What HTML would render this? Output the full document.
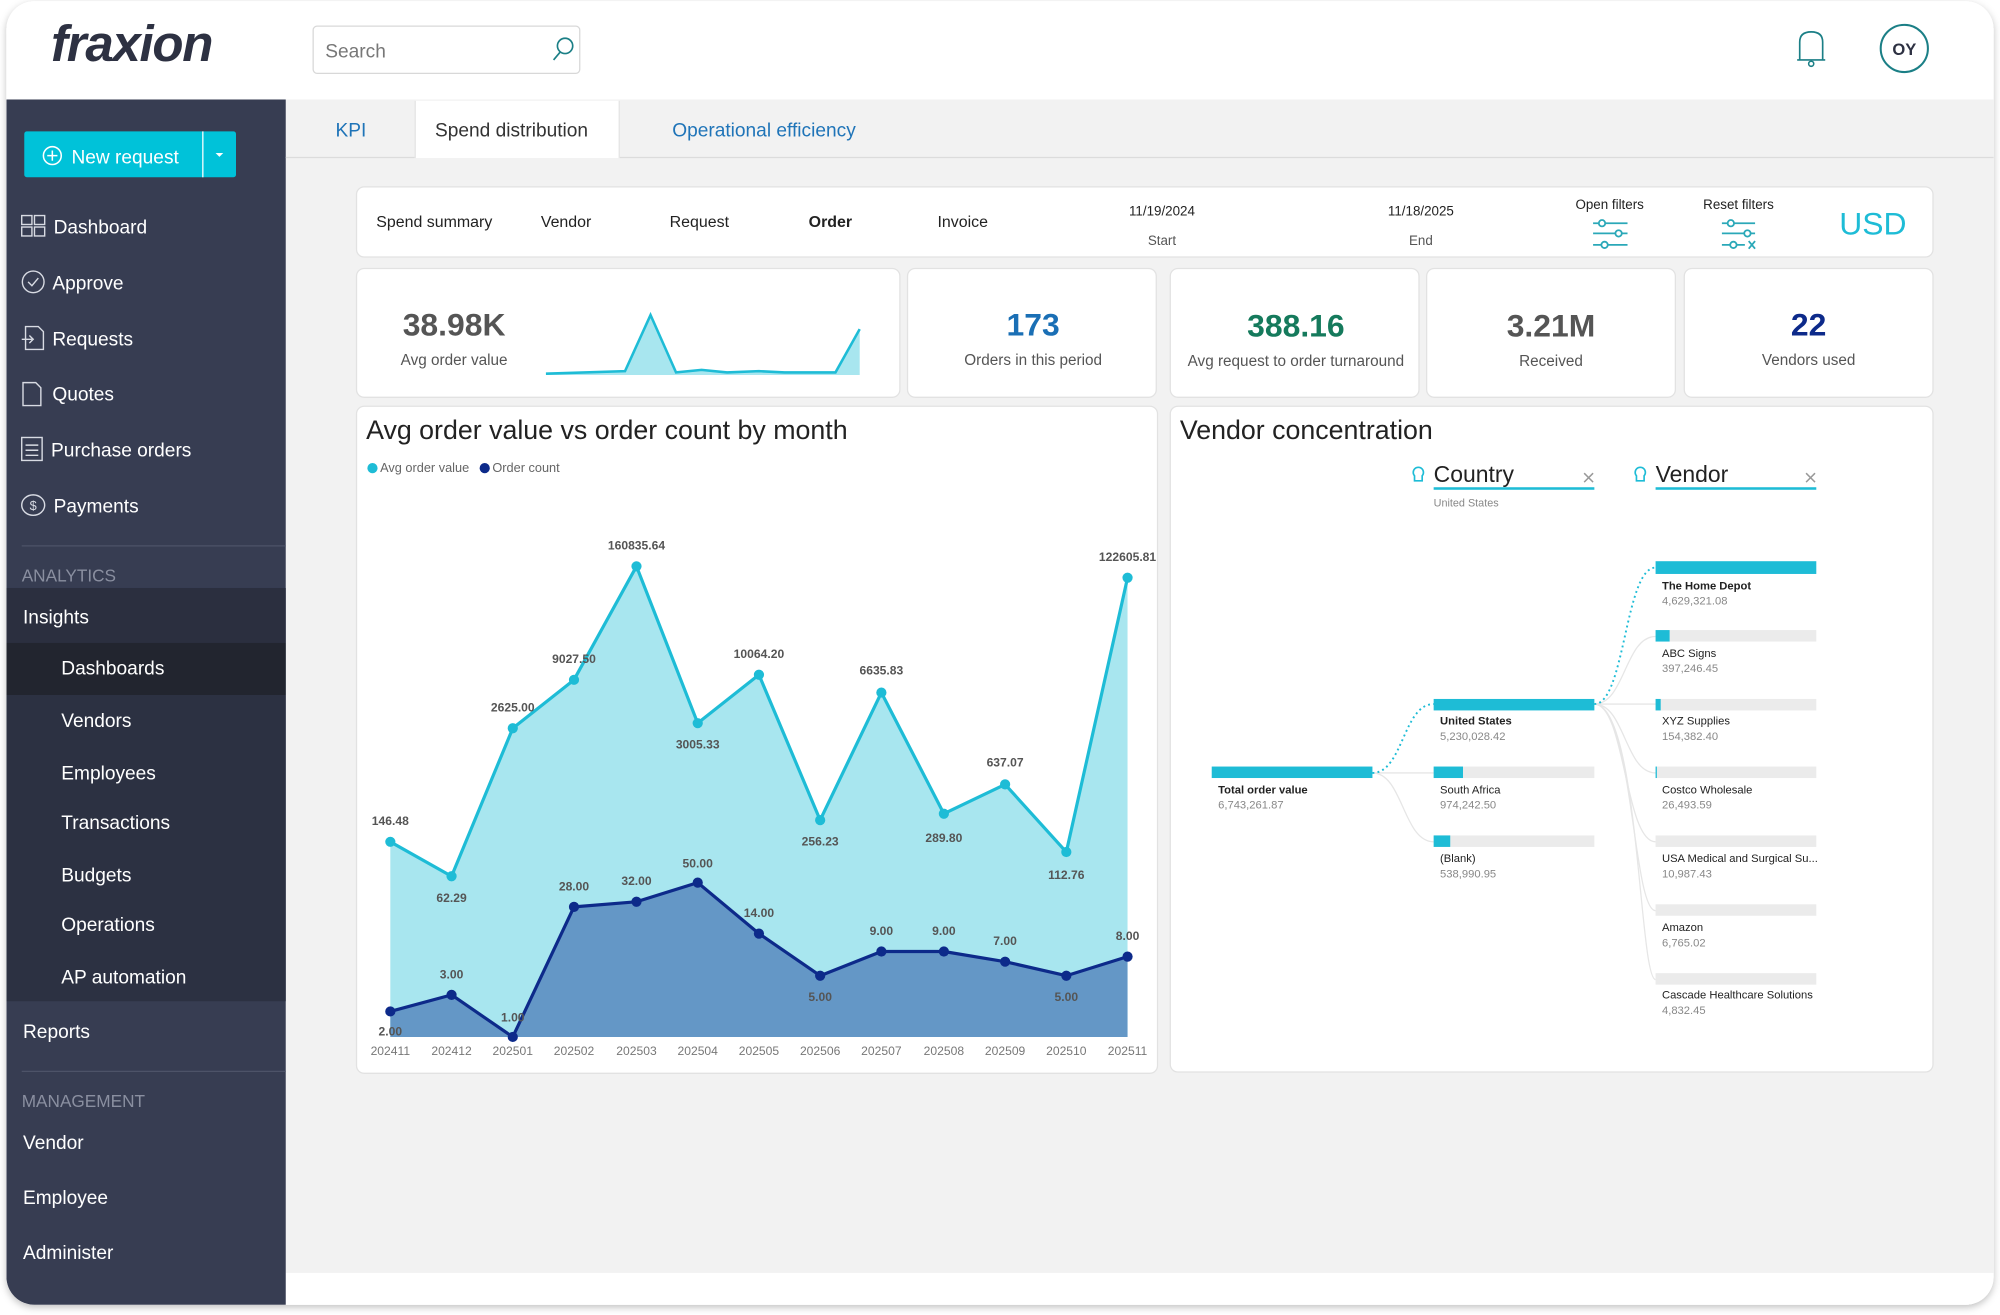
<!DOCTYPE html>
<html><head><meta charset="utf-8"><style>
html,body{margin:0;padding:0;background:#fff;}
svg{display:block;font-family:"Liberation Sans",sans-serif;}
</style></head><body>
<svg width="2000" height="1315" viewBox="0 0 1568 1031" xmlns="http://www.w3.org/2000/svg">
<defs>
<filter id="sh" x="-5%" y="-5%" width="110%" height="110%"><feDropShadow dx="0" dy="2" stdDeviation="3" flood-color="#000" flood-opacity="0.25"/></filter>
<clipPath id="fr"><rect x="5" y="1" width="1558" height="1022" rx="22"/></clipPath>
</defs>
<rect width="1568" height="1031" fill="#fff"/>
<rect x="5" y="1" width="1558" height="1022" rx="22" fill="#fff" filter="url(#sh)"/>
<g clip-path="url(#fr)">
<rect x="5" y="0" width="1558" height="1031" fill="#fff"/>
<!-- main bg -->
<rect x="224" y="78" width="1340" height="920" fill="#f2f2f2"/>
<!-- sidebar -->
<rect x="5" y="78" width="219" height="950" fill="#373d52"/>
<rect x="5" y="461" width="219" height="43" fill="#2b2f3f"/>
<rect x="5" y="504" width="219" height="41" fill="#22252f"/>
<rect x="5" y="545" width="219" height="240" fill="#2c3142"/>
<line x1="17" y1="428" x2="224" y2="428" stroke="#4d5368" stroke-width="1"/>
<line x1="17" y1="840" x2="224" y2="840" stroke="#4d5368" stroke-width="1"/>
</g>
<!-- header -->
<text x="40" y="48" font-size="40" font-weight="bold" font-style="italic" fill="#2d3142" letter-spacing="-1">fraxion</text>
<rect x="245.5" y="20.5" width="209" height="37" rx="3" fill="#fff" stroke="#d8d8d8"/>
<text x="255" y="45" font-size="15" fill="#777">Search</text>
<circle cx="443" cy="36" r="6" fill="none" stroke="#1b7f86" stroke-width="1.3"/>
<line x1="439" y1="41" x2="434" y2="47" stroke="#1b7f86" stroke-width="1.3"/>
<path d="M1411 47 L1411 33 Q1411 25 1420 25 Q1429 25 1429 33 L1429 47 Z M1409 47 L1431 47" fill="none" stroke="#1b7f86" stroke-width="1.3"/>
<circle cx="1420" cy="50" r="2" fill="none" stroke="#1b7f86" stroke-width="1.2"/>
<circle cx="1493" cy="38" r="18.5" fill="#fff" stroke="#1b7f86" stroke-width="1.6"/>
<text x="1493" y="43" font-size="13" font-weight="bold" fill="#2d3142" text-anchor="middle">OY</text>
<!-- new request -->
<rect x="19" y="103" width="166" height="36" rx="2" fill="#00c2d9"/>
<line x1="159" y1="103" x2="159" y2="139" stroke="#fff" stroke-width="1"/>
<circle cx="41" cy="122" r="7" fill="none" stroke="#fff" stroke-width="1.2"/>
<path d="M37 122h8M41 118v8" stroke="#fff" stroke-width="1.2"/>
<text x="56" y="128" font-size="15" fill="#fff">New request</text>
<path d="M169 120l3 3 3-3z" fill="#fff"/>
<!-- nav -->
<g fill="#fff" font-size="15">
<text x="42" y="183">Dashboard</text>
<text x="41" y="227">Approve</text>
<text x="41" y="271">Requests</text>
<text x="41" y="314">Quotes</text>
<text x="40" y="358">Purchase orders</text>
<text x="42" y="402">Payments</text>
<text x="18" y="489">Insights</text>
<text x="48" y="529">Dashboards</text>
<text x="48" y="570">Vendors</text>
<text x="48" y="611">Employees</text>
<text x="48" y="650">Transactions</text>
<text x="48" y="691">Budgets</text>
<text x="48" y="730">Operations</text>
<text x="48" y="771">AP automation</text>
<text x="18" y="814">Reports</text>
<text x="18" y="901">Vendor</text>
<text x="18" y="944">Employee</text>
<text x="18" y="987">Administer</text>
</g>
<text x="17" y="456" font-size="13.5" fill="#8a8fa0">ANALYTICS</text>
<text x="17" y="868" font-size="13.5" fill="#8a8fa0">MANAGEMENT</text>
<g fill="none" stroke="#d8dbe3" stroke-width="1.1">
<rect x="17" y="169" width="8" height="7"/><rect x="27" y="169" width="8" height="7"/><rect x="17" y="178" width="8" height="7"/><rect x="27" y="178" width="8" height="7"/>
<circle cx="26" cy="221" r="8.5"/><path d="M22 221l3 3 5-6"/>
<path d="M20 256h10l4 4v14h-14z M17 266h8 M23 263l3 3-3 3"/>
<path d="M18 300h10l4 4v14h-14z"/>
<rect x="17" y="343" width="16" height="18"/><path d="M20 349h10M20 353h10M20 357h10"/>
<ellipse cx="26" cy="396" rx="9" ry="8"/>
</g>
<text x="26" y="400" font-size="10" fill="#d8dbe3" text-anchor="middle">$</text>
<!-- tabs -->
<line x1="224" y1="123.5" x2="1563" y2="123.5" stroke="#dcdcdc"/>
<rect x="325" y="79" width="161" height="45" fill="#fff"/>
<line x1="325.5" y1="79" x2="325.5" y2="124" stroke="#e3e3e3"/>
<line x1="485.5" y1="79" x2="485.5" y2="124" stroke="#e3e3e3"/>
<text x="263" y="107" font-size="15" fill="#1f74b8">KPI</text>
<text x="341" y="107" font-size="15" fill="#333">Spend distribution</text>
<text x="527" y="107" font-size="15" fill="#1f74b8">Operational efficiency</text>
<!-- filter card -->
<rect x="279.5" y="146.5" width="1236" height="55" rx="6" fill="#fff" stroke="#e2e2e2"/>
<g font-size="12.5" fill="#222">
<text x="295" y="178">Spend summary</text>
<text x="424" y="178">Vendor</text>
<text x="525" y="178">Request</text>
<text x="634" y="178" font-weight="bold">Order</text>
<text x="735" y="178">Invoice</text>
</g>
<g font-size="10.5" fill="#222" text-anchor="middle">
<text x="911" y="169">11/19/2024</text><text x="911" y="192" fill="#555">Start</text>
<text x="1114" y="169">11/18/2025</text><text x="1114" y="192" fill="#555">End</text>
<text x="1262" y="164">Open filters</text>
<text x="1363" y="164">Reset filters</text>
</g>
<g stroke="#2aa8b8" stroke-width="1.4" fill="#fff">
<line x1="1249" y1="175" x2="1276" y2="175"/><line x1="1249" y1="183" x2="1276" y2="183"/><line x1="1249" y1="192" x2="1276" y2="192"/>
<circle cx="1256" cy="175" r="2.5"/><circle cx="1269" cy="183" r="2.5"/><circle cx="1258" cy="192" r="2.5"/>
<line x1="1350" y1="175" x2="1376" y2="175"/><line x1="1350" y1="183" x2="1376" y2="183"/><line x1="1350" y1="192" x2="1368" y2="192"/>
<circle cx="1357" cy="175" r="2.5"/><circle cx="1370" cy="183" r="2.5"/><circle cx="1359" cy="192" r="2.5"/>
<path d="M1371 189l5 6M1376 189l-5 6" fill="none"/>
</g>
<text x="1442" y="184" font-size="25" fill="#1ebcd6">USD</text>
<!-- KPI cards -->
<g fill="#fff" stroke="#e2e2e2">
<rect x="279.5" y="210.5" width="426" height="101" rx="6"/>
<rect x="711.5" y="210.5" width="195" height="101" rx="6"/>
<rect x="917.5" y="210.5" width="195" height="101" rx="6"/>
<rect x="1118.5" y="210.5" width="195" height="101" rx="6"/>
<rect x="1320.5" y="210.5" width="195" height="101" rx="6"/>
</g>
<path d="M428 293 L490 291 L510 247 L530 292 L550 290 L570 292 L595 291 L615 292 L655 292 L674 258 L674 294 L428 294Z" fill="#a8e6ef"/>
<path d="M428 293 L490 291 L510 247 L530 292 L550 290 L570 292 L595 291 L615 292 L655 292 L674 258" fill="none" stroke="#1ebcd6" stroke-width="2"/>
<g text-anchor="middle">
<text x="356" y="263" font-size="25" font-weight="bold" fill="#555">38.98K</text>
<text x="356" y="286" font-size="12" fill="#555">Avg order value</text>
<text x="810" y="263" font-size="25" font-weight="bold" fill="#1a6fb5">173</text>
<text x="810" y="286" font-size="12" fill="#555">Orders in this period</text>
<text x="1016" y="264" font-size="25" font-weight="bold" fill="#157a5c">388.16</text>
<text x="1016" y="287" font-size="12" fill="#555">Avg request to order turnaround</text>
<text x="1216" y="264" font-size="25" font-weight="bold" fill="#555">3.21M</text>
<text x="1216" y="287" font-size="12" fill="#555">Received</text>
<text x="1418" y="263" font-size="25" font-weight="bold" fill="#0d2a8a">22</text>
<text x="1418" y="286" font-size="12" fill="#555">Vendors used</text>
</g>
<!-- chart card -->
<rect x="279.5" y="318.5" width="628" height="523" rx="6" fill="#fff" stroke="#e2e2e2"/>
<text x="287" y="344" font-size="21" fill="#222">Avg order value vs order count by month</text>
<circle cx="292" cy="367" r="4" fill="#1ebcd6"/><text x="298" y="370" font-size="10" fill="#666">Avg order value</text>
<circle cx="380" cy="367" r="4" fill="#0d2a8a"/><text x="386" y="370" font-size="10" fill="#666">Order count</text>
<path d="M306 660 L354 687 L402 571 L450 533 L499 444 L547 567 L595 529 L643 643 L691 543 L740 638 L788 615 L836 668 L884 453 L884 813 L306 813Z" fill="#a8e6ef"/>
<path d="M306 793 L354 780 L402 813 L450 711 L499 707 L547 692 L595 732 L643 765 L691 746 L740 746 L788 754 L836 765 L884 750 L884 813 L306 813Z" fill="#6497c6"/>
<path d="M306 660 L354 687 L402 571 L450 533 L499 444 L547 567 L595 529 L643 643 L691 543 L740 638 L788 615 L836 668 L884 453" fill="none" stroke="#1ebcd6" stroke-width="2.5" stroke-linejoin="round"/>
<path d="M306 793 L354 780 L402 813 L450 711 L499 707 L547 692 L595 732 L643 765 L691 746 L740 746 L788 754 L836 765 L884 750" fill="none" stroke="#0d2a8a" stroke-width="2.5" stroke-linejoin="round"/>
<g fill="#1ebcd6">
<circle cx="306" cy="660" r="4"/><circle cx="354" cy="687" r="4"/><circle cx="402" cy="571" r="4"/><circle cx="450" cy="533" r="4"/><circle cx="499" cy="444" r="4"/><circle cx="547" cy="567" r="4"/><circle cx="595" cy="529" r="4"/><circle cx="643" cy="643" r="4"/><circle cx="691" cy="543" r="4"/><circle cx="740" cy="638" r="4"/><circle cx="788" cy="615" r="4"/><circle cx="836" cy="668" r="4"/><circle cx="884" cy="453" r="4"/>
</g>
<g fill="#0d2a8a">
<circle cx="306" cy="793" r="4"/><circle cx="354" cy="780" r="4"/><circle cx="402" cy="813" r="4"/><circle cx="450" cy="711" r="4"/><circle cx="499" cy="707" r="4"/><circle cx="547" cy="692" r="4"/><circle cx="595" cy="732" r="4"/><circle cx="643" cy="765" r="4"/><circle cx="691" cy="746" r="4"/><circle cx="740" cy="746" r="4"/><circle cx="788" cy="754" r="4"/><circle cx="836" cy="765" r="4"/><circle cx="884" cy="750" r="4"/>
</g>
<g font-size="9.5" font-weight="bold" fill="#555" text-anchor="middle">
<text x="306" y="647">146.48</text><text x="354" y="707">62.29</text><text x="402" y="558">2625.00</text><text x="450" y="520">9027.50</text><text x="499" y="431">160835.64</text><text x="547" y="587">3005.33</text><text x="595" y="516">10064.20</text><text x="643" y="663">256.23</text><text x="691" y="529">6635.83</text><text x="740" y="660">289.80</text><text x="788" y="601">637.07</text><text x="836" y="689">112.76</text><text x="884" y="440">122605.81</text>
<text x="306" y="812">2.00</text><text x="354" y="767">3.00</text><text x="402" y="801">1.00</text><text x="450" y="698">28.00</text><text x="499" y="694">32.00</text><text x="547" y="680">50.00</text><text x="595" y="719">14.00</text><text x="643" y="785">5.00</text><text x="691" y="733">9.00</text><text x="740" y="733">9.00</text><text x="788" y="741">7.00</text><text x="836" y="785">5.00</text><text x="884" y="737">8.00</text>
</g>
<g font-size="9.5" fill="#777" text-anchor="middle">
<text x="306" y="827">202411</text><text x="354" y="827">202412</text><text x="402" y="827">202501</text><text x="450" y="827">202502</text><text x="499" y="827">202503</text><text x="547" y="827">202504</text><text x="595" y="827">202505</text><text x="643" y="827">202506</text><text x="691" y="827">202507</text><text x="740" y="827">202508</text><text x="788" y="827">202509</text><text x="836" y="827">202510</text><text x="884" y="827">202511</text>
</g>
<!-- vendor card -->
<rect x="917.5" y="318.5" width="598" height="522" rx="6" fill="#fff" stroke="#e2e2e2"/>
<text x="925" y="344" font-size="21" fill="#222">Vendor concentration</text>
<g fill="none" stroke="#1ebcd6" stroke-width="1.3">
<path d="M1109 373a4 4 0 1 1 6 0v4h-6z"/><path d="M1283 373a4 4 0 1 1 6 0v4h-6z"/>
</g>
<text x="1124" y="378" font-size="18" fill="#222">Country</text>
<text x="1298" y="378" font-size="18" fill="#222">Vendor</text>
<rect x="1124" y="382" width="126" height="2" fill="#1ebcd6"/>
<rect x="1298" y="382" width="126" height="2" fill="#1ebcd6"/>
<g stroke="#999" stroke-width="1.2"><path d="M1242 371l7 7M1249 371l-7 7M1416 371l7 7M1423 371l-7 7"/></g>
<text x="1124" y="397" font-size="8.5" fill="#888">United States</text>
<!-- connectors -->
<g fill="none" stroke="#e6e6e6" stroke-width="1">
<path d="M1076 606 L1124 606"/><path d="M1076 606 C1100 606 1100 660 1124 660"/>
<path d="M1250 552 C1274 552 1274 499 1298 499"/><path d="M1250 552 L1298 552"/>
<path d="M1250 552 C1274 552 1274 606 1298 606"/><path d="M1250 552 C1274 552 1274 660 1298 660"/>
<path d="M1250 552 C1280 552 1280 714 1298 714"/><path d="M1250 552 C1285 552 1285 768 1298 768"/>
</g>
<g fill="none" stroke="#1ebcd6" stroke-width="1.5" stroke-dasharray="1.5 2.5">
<path d="M1076 606 C1100 606 1100 552 1124 552"/>
<path d="M1250 552 C1274 552 1274 445 1298 445"/>
</g>
<g fill="#ebebeb">
<rect x="1124" y="601" width="126" height="9"/><rect x="1124" y="655" width="126" height="9"/>
<rect x="1298" y="494" width="126" height="9"/><rect x="1298" y="548" width="126" height="9"/><rect x="1298" y="601" width="126" height="9"/><rect x="1298" y="655" width="126" height="9"/><rect x="1298" y="709" width="126" height="9"/><rect x="1298" y="763" width="126" height="9"/>
</g>
<g fill="#1ebcd6">
<rect x="950" y="601" width="126" height="9"/>
<rect x="1124" y="548" width="126" height="9"/><rect x="1124" y="601" width="23" height="9"/><rect x="1124" y="655" width="13" height="9"/>
<rect x="1298" y="440" width="126" height="10"/><rect x="1298" y="494" width="11" height="9"/><rect x="1298" y="548" width="4" height="9"/><rect x="1298" y="601" width="1" height="9"/>
</g>
<g font-size="8.8" fill="#222">
<text x="955" y="622" font-weight="bold">Total order value</text>
<text x="1129" y="568" font-weight="bold">United States</text>
<text x="1129" y="622">South Africa</text>
<text x="1129" y="676">(Blank)</text>
<text x="1303" y="462" font-weight="bold">The Home Depot</text>
<text x="1303" y="515">ABC Signs</text>
<text x="1303" y="568">XYZ Supplies</text>
<text x="1303" y="622">Costco Wholesale</text>
<text x="1303" y="676">USA Medical and Surgical Su...</text>
<text x="1303" y="730">Amazon</text>
<text x="1303" y="783">Cascade Healthcare Solutions</text>
</g>
<g font-size="8.8" fill="#888">
<text x="955" y="634">6,743,261.87</text>
<text x="1129" y="580">5,230,028.42</text>
<text x="1129" y="634">974,242.50</text>
<text x="1129" y="688">538,990.95</text>
<text x="1303" y="474">4,629,321.08</text>
<text x="1303" y="527">397,246.45</text>
<text x="1303" y="580">154,382.40</text>
<text x="1303" y="634">26,493.59</text>
<text x="1303" y="688">10,987.43</text>
<text x="1303" y="742">6,765.02</text>
<text x="1303" y="795">4,832.45</text>
</g>
</svg>
</body></html>
